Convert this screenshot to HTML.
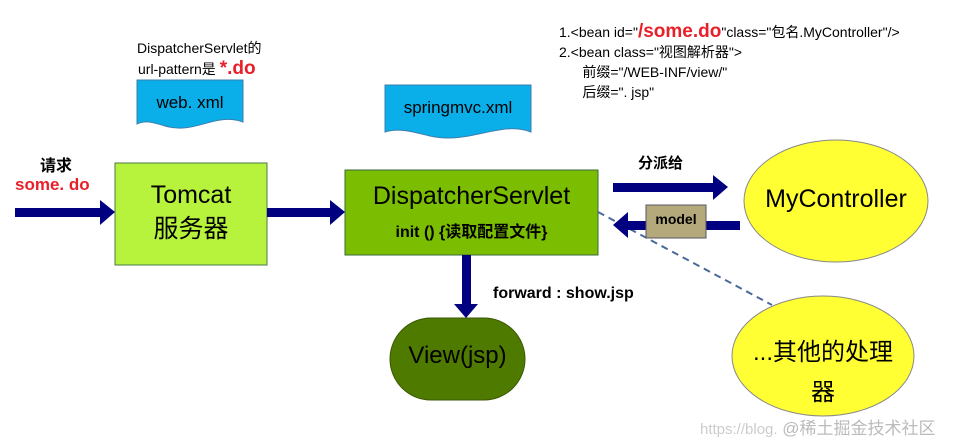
<!DOCTYPE html>
<html><head><meta charset="utf-8"><style>
body{margin:0;background:#fff;width:955px;height:441px;overflow:hidden;position:relative;font-family:"Liberation Sans","Noto Sans CJK SC",sans-serif}
.t{position:absolute;white-space:nowrap}
</style></head><body>
<svg width="955" height="441" style="position:absolute;left:0;top:0">
<path d="M137,80 H243 V122 C215,112 195,135 165,126 C152,122 145,120 137,124 Z" fill="#0aaee8" stroke="#3b7fb0" stroke-width="1"/>
<path d="M385,85 H531 V132 C500,120 470,145 430,136 C410,131 398,128 385,132 Z" fill="#0aaee8" stroke="#3b7fb0" stroke-width="1"/>
<rect x="115" y="163" width="152" height="102" fill="#b7f23c" stroke="#4a7a4a"/>
<rect x="345" y="170" width="253" height="85" fill="#7bbd00" stroke="#3a6a3a"/>
<rect x="390" y="318" width="135" height="82" rx="41" fill="#4f7a00" stroke="#3a5a00"/>
<ellipse cx="836" cy="201" rx="92" ry="61" fill="#ffff33" stroke="#888"/>
<ellipse cx="823" cy="356" rx="91" ry="60" fill="#ffff33" stroke="#888"/>
<line x1="598" y1="212" x2="772" y2="305" stroke="#4a6a9a" stroke-width="2" stroke-dasharray="7,5"/>
<g fill="#000080">
<rect x="15" y="208" width="88" height="9"/><polygon points="100,200 115,212 100,225"/>
<rect x="267" y="208" width="66" height="9"/><polygon points="330,200 345,212 330,225"/>
<rect x="613" y="183" width="103" height="9"/><polygon points="713,175 728,187 713,200"/>
<rect x="624" y="221" width="116" height="9"/><polygon points="628,212 613,225 628,238"/>
<rect x="462" y="255" width="9" height="52"/><polygon points="454,304 466,318 478,304"/>
</g>
<rect x="646" y="205" width="60" height="33" fill="#b3a97b" stroke="#556"/>
</svg>
<div class="t" style="left:137px;top:38px;font-size:14px">DispatcherServlet的</div>
<div class="t" style="left:138px;top:58px;font-size:14px">url-pattern是 <b style="color:#e8202a;font-size:19px">*.do</b></div>
<div class="t" style="left:137px;top:93px;width:106px;text-align:center;font-size:17px">web. xml</div>
<div class="t" style="left:385px;top:98px;width:146px;text-align:center;font-size:17px">springmvc.xml</div>
<div class="t" style="left:40px;top:152px;font-size:16px;font-weight:bold">请求</div>
<div class="t" style="left:15px;top:175px;font-size:17px;font-weight:bold;color:#e8202a">some. do</div>
<div class="t" style="left:115px;top:178px;width:152px;text-align:center;font-size:25px;line-height:34px">Tomcat<br>服务器</div>
<div class="t" style="left:345px;top:182px;width:253px;text-align:center;font-size:25px">DispatcherServlet</div>
<div class="t" style="left:345px;top:218px;width:253px;text-align:center;font-size:16px;font-weight:bold">init () {读取配置文件}</div>
<div class="t" style="left:390px;top:342px;width:135px;text-align:center;font-size:24px">View(jsp)</div>
<div class="t" style="left:493px;top:285px;font-size:16px;font-weight:bold">forward : show.jsp</div>
<div class="t" style="left:638px;top:152px;font-size:15px;font-weight:bold">分派给</div>
<div class="t" style="left:646px;top:211px;width:60px;text-align:center;font-size:14px;font-weight:bold">model</div>
<div class="t" style="left:744px;top:185px;width:184px;text-align:center;font-size:25px">MyController</div>
<div class="t" style="left:732px;top:333px;width:182px;text-align:center;font-size:24px;line-height:40px">...其他的处理<br>器</div>
<div class="t" style="left:559px;top:22px;font-size:14px;line-height:20px">1.&lt;bean id="<b style="color:#e8202a;font-size:19px">/some.do</b>"class="包名.MyController"/&gt;<br>2.&lt;bean class="视图解析器"&gt;<br>&nbsp;&nbsp;&nbsp;&nbsp;&nbsp;&nbsp;前缀="/WEB-INF/view/"<br>&nbsp;&nbsp;&nbsp;&nbsp;&nbsp;&nbsp;后缀=". jsp"</div>
<div class="t" style="left:700px;top:414px;font-size:15px;color:#ccc">https://blog.<span style="color:#bbb;font-size:17px"> @稀土掘金技术社区</span></div>
</body></html>
